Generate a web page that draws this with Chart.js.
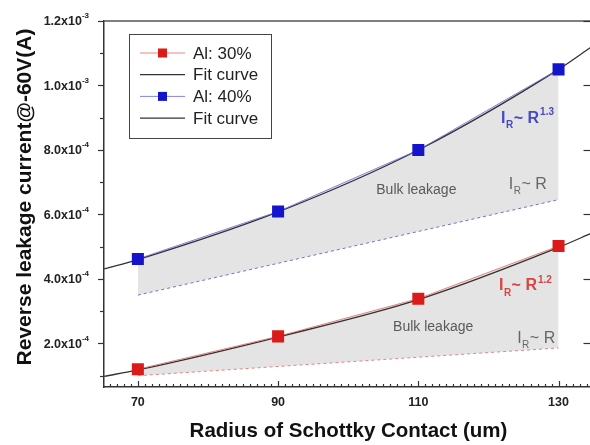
<!DOCTYPE html>
<html lang="en">
<head>
<meta charset="UTF-8" />
<title>Reverse leakage current vs Schottky radius</title>
<script src="https://cdn.jsdelivr.net/npm/chart.js"></script>
<style>
  html, body { margin: 0; padding: 0; background: #fff; overflow: hidden; }
  #wrap { position: relative; width: 600px; height: 445px; }
</style>
</head>
<body>
<div id="wrap"><canvas id="chart"></canvas></div>
<script>
  // measured points (radius in um, current in A)
  const radius = [70, 90, 110, 130];
  const al30 = [1.2e-4, 2.22e-4, 3.39e-4, 5.02e-4];
  const al40 = [4.62e-4, 6.09e-4, 8.0e-4, 1.05e-3];

  // fit curves
  const fitRadius = [65.2, 70, 90, 110, 130, 134.7];
  const fit30 = [0.98e-4, 1.18e-4, 2.2e-4, 3.36e-4, 4.98e-4, 5.42e-4];
  const fit40 = [4.31e-4, 4.6e-4, 6.08e-4, 8.0e-4, 1.05e-3, 1.12e-3];

  // I_R ~ R reference lines (bulk leakage)
  const bulkRadius = [70, 130];
  const bulk30 = [1.0e-4, 1.86e-4];
  const bulk40 = [3.5e-4, 6.46e-4];

  // axis ticks
  const xMajor = [70, 90, 110, 130];
  const yMajor = [2e-4, 4e-4, 6e-4, 8e-4, 1.0e-3, 1.2e-3];
  const yMinor = [1e-4, 3e-4, 5e-4, 7e-4, 9e-4, 1.1e-3];
  const yMant = ['2.0', '4.0', '6.0', '8.0', '1.0', '1.2'];
  const yExp = ['-4', '-4', '-4', '-4', '-3', '-3'];

  // text annotations placed in data units
  const notes = [
    { x: 121.8, y: 8.98e-4, color: '#4848c6', weight: 'bold', parts: [['I', 0], ['R', 1], ['~ R', 0], ['1.3', -1]] },
    { x: 104.0, y: 6.76e-4, color: '#5a5a5a', weight: 'normal', parts: [['Bulk leakage', 0]] },
    { x: 122.9, y: 6.93e-4, color: '#666', weight: 'normal', parts: [['I', 0], ['R', 1], ['~ R', 0]] },
    { x: 121.5, y: 3.78e-4, color: '#d84444', weight: 'bold', parts: [['I', 0], ['R', 1], ['~ R', 0], ['1.2', -1]] },
    { x: 106.4, y: 2.5e-4, color: '#5a5a5a', weight: 'normal', parts: [['Bulk leakage', 0]] },
    { x: 124.1, y: 2.15e-4, color: '#666', weight: 'normal', parts: [['I', 0], ['R', 1], ['~ R', 0]] }
  ];

  const FONT = 'Arial, "Liberation Sans", sans-serif';
  const pts = (xs, ys) => xs.map((x, i) => ({ x, y: ys[i] }));

  const decor = {
    id: 'decor',
    afterDraw(chart) {
      const { ctx, chartArea: a, scales: { x, y } } = chart;
      ctx.save();

      // top frame line
      ctx.strokeStyle = '#555';
      ctx.lineWidth = 1.5;
      ctx.beginPath();
      ctx.moveTo(a.left, a.top);
      ctx.lineTo(a.right, a.top);
      ctx.stroke();

      // y ticks (outward on left, inward on right)
      ctx.strokeStyle = '#333';
      ctx.lineWidth = 1.2;
      yMajor.concat(yMinor).forEach(v => {
        const py = Math.round(y.getPixelForValue(v)) + 0.5;
        const len = yMajor.includes(v) ? 6 : 4;
        ctx.beginPath();
        ctx.moveTo(a.left - len, py);
        ctx.lineTo(a.left, py);
        ctx.stroke();
      });
      yMajor.forEach(v => {
        const py = Math.round(y.getPixelForValue(v)) + 0.5;
        ctx.beginPath();
        ctx.moveTo(a.right - 8, py);
        ctx.lineTo(a.right, py);
        ctx.stroke();
      });

      // y tick labels with exponent
      ctx.fillStyle = '#222';
      ctx.textBaseline = 'middle';
      ctx.textAlign = 'right';
      yMajor.forEach((v, i) => {
        const py = y.getPixelForValue(v);
        const ex = a.left - 15;
        ctx.font = 'bold 8px ' + FONT;
        const ew = ctx.measureText(yExp[i]).width;
        ctx.fillText(yExp[i], ex, py - 5);
        ctx.font = 'bold 12.5px ' + FONT;
        ctx.fillText(yMant[i] + 'x10', ex - ew, py + 1);
      });

      // x ticks, pointing into the plot
      for (let v = Math.ceil(x.min); v <= x.max; v++) {
        const px = Math.round(x.getPixelForValue(v)) + 0.5;
        const len = xMajor.includes(v) ? 6 : 3;
        ctx.beginPath();
        ctx.moveTo(px, a.bottom);
        ctx.lineTo(px, a.bottom - len);
        ctx.stroke();
      }
      ctx.textAlign = 'center';
      ctx.font = 'bold 12.5px ' + FONT;
      xMajor.forEach(v => ctx.fillText(String(v), x.getPixelForValue(v), a.bottom + 16));

      // axis titles
      ctx.fillStyle = '#111';
      ctx.font = 'bold 20.5px ' + FONT;
      ctx.fillText('Radius of Schottky Contact (um)', (a.left + 593) / 2, 431);
      ctx.save();
      ctx.translate(25, 197);
      ctx.rotate(-Math.PI / 2);
      ctx.font = 'bold 21px ' + FONT;
      ctx.fillText('Reverse leakage current@-60V(A)', 0, 0);
      ctx.restore();

      // annotations
      ctx.textAlign = 'left';
      notes.forEach(n => {
        let px = x.getPixelForValue(n.x);
        const py = y.getPixelForValue(n.y);
        ctx.fillStyle = n.color;
        n.parts.forEach(([t, shift]) => {
          const size = shift === 0 ? (t === 'Bulk leakage' ? 14 : 16) : 10;
          ctx.font = n.weight + ' ' + size + 'px ' + FONT;
          const dy = shift === 1 ? 7 : shift === -1 ? -6 : 0;
          ctx.fillText(t, px, py + dy);
          px += ctx.measureText(t).width + (shift === 0 && t.startsWith('~') ? 1 : 0.5);
        });
      });

      // legend
      const bx = a.left + 25, by = a.top + 13, bw = 142, bh = 104;
      ctx.fillStyle = '#fff';
      ctx.fillRect(bx, by, bw, bh);
      ctx.strokeStyle = '#444';
      ctx.lineWidth = 1;
      ctx.strokeRect(bx + 0.5, by + 0.5, bw, bh);
      ctx.font = '17px ' + FONT;
      ctx.textBaseline = 'middle';
      chart.data.datasets.slice(0, 4).forEach((ds, i) => {
        const ry = by + 19 + i * 21.7;
        ctx.strokeStyle = ds.borderColor;
        ctx.lineWidth = ds.borderWidth;
        ctx.beginPath();
        ctx.moveTo(bx + 11, ry);
        ctx.lineTo(bx + 56, ry);
        ctx.stroke();
        if (ds.pointRadius > 0) {
          ctx.fillStyle = ds.pointBackgroundColor;
          ctx.fillRect(bx + 29, ry - 4.5, 9, 9);
        }
        ctx.fillStyle = '#222';
        ctx.fillText(ds.label, bx + 64, ry + 1);
      });

      ctx.restore();
    }
  };

  new Chart(document.getElementById('chart'), {
    type: 'line',
    data: {
      datasets: [
        { label: 'Al: 30%', data: pts(radius, al30), borderColor: 'rgba(228,110,110,0.85)', borderWidth: 1,
          pointStyle: 'rect', pointRadius: 8.5, pointBackgroundColor: '#dc1a1a', pointBorderColor: '#dc1a1a', pointBorderWidth: 0, tension: 0 },
        { label: 'Fit curve', data: pts(fitRadius, fit30), borderColor: '#333', borderWidth: 1.3,
          pointRadius: 0, cubicInterpolationMode: 'monotone' },
        { label: 'Al: 40%', data: pts(radius, al40), borderColor: 'rgba(110,110,220,0.85)', borderWidth: 1,
          pointStyle: 'rect', pointRadius: 8.5, pointBackgroundColor: '#1414cc', pointBorderColor: '#1414cc', pointBorderWidth: 0, tension: 0 },
        { label: 'Fit curve', data: pts(fitRadius, fit40), borderColor: '#333', borderWidth: 1.3,
          pointRadius: 0, cubicInterpolationMode: 'monotone' },
        { label: 'I_R ~ R (Al: 30%)', data: pts(bulkRadius, bulk30), borderColor: 'rgba(232,120,120,0.9)', borderWidth: 1,
          borderDash: [3, 3], pointRadius: 0, fill: { target: 0 }, backgroundColor: '#e4e4e4' },
        { label: 'I_R ~ R (Al: 40%)', data: pts(bulkRadius, bulk40), borderColor: 'rgba(90,90,210,0.85)', borderWidth: 1,
          borderDash: [3, 3], pointRadius: 0, fill: { target: 2 }, backgroundColor: '#e4e4e4' }
      ]
    },
    options: {
      responsive: true,
      maintainAspectRatio: false,
      animation: false,
      layout: { padding: { top: 21, right: 7, left: 0, bottom: 0 } },
      plugins: { legend: { display: false }, tooltip: { enabled: false } },
      scales: {
        x: {
          type: 'linear', min: 65.17, max: 134.7,
          afterFit: s => { s.height = 58; },
          ticks: { display: false },
          grid: { display: false },
          border: { display: true, color: '#333', width: 1.5 }
        },
        y: {
          type: 'linear', min: 0.65e-4, max: 1.2e-3,
          afterFit: s => { s.width = 104; },
          ticks: { display: false },
          grid: { display: false },
          border: { display: true, color: '#333', width: 1.5 }
        }
      }
    },
    plugins: [decor]
  });
</script>
</body>
</html>
